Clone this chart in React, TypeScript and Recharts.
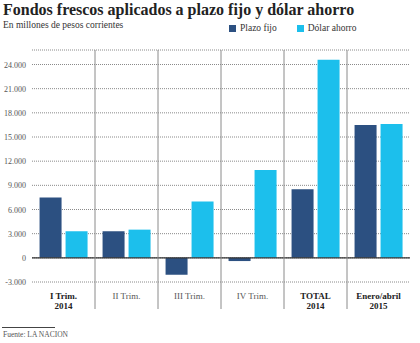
import { BarChart, Bar, XAxis, YAxis, CartesianGrid, ReferenceLine } from 'recharts'

const categories = ['I Trim.|2014', 'II Trim.', 'III Trim.', 'IV Trim.', 'TOTAL|2014', 'Enero/abril|2015']
const boldCats = ['I Trim.|2014', 'TOTAL|2014', 'Enero/abril|2015']
const plazoFijo = [7500, 3300, -2100, -400, 8500, 16500]
const dolarAhorro = [3300, 3500, 7000, 10900, 24600, 16600]
const yTicks = [-3000, 0, 3000, 6000, 9000, 12000, 15000, 18000, 21000, 24000]

const DARK = '#2c5081'
const LIGHT = '#1cbfec'
const FONT = '"Liberation Serif", "DejaVu Serif", serif'

const data = categories.map((c, i) => ({ cat: c, plazo: plazoFijo[i], dolar: dolarAhorro[i] }))

const fmt = (v: number) => (v === 0 ? '0' : v.toLocaleString('de-DE'))

const SEP_TOP = 50
const SEP_BOTTOM = 309

function CatTick(props: any) {
  const { x, y, payload, index } = props
  const lines = String(payload.value).split('|')
  const bold = boldCats.includes(payload.value)
  const off = payload.offset || 0
  return (
    <g>
      {index < categories.length - 1 && (
        <line x1={x + off} x2={x + off} y1={SEP_TOP} y2={SEP_BOTTOM} stroke="#8a8a8a" strokeWidth={1} />
      )}
      {lines.map((l, k) => (
        <text
          key={k}
          x={x}
          y={y + 9 + k * 10}
          textAnchor="middle"
          fontFamily={FONT}
          fontSize={9}
          fontWeight={bold ? 700 : 400}
          fill={bold ? '#222' : '#555'}
        >
          {l}
        </text>
      ))}
    </g>
  )
}

function YTick(props: any) {
  const { x, y, payload } = props
  return (
    <text x={x + 2} y={y + 3} textAnchor="end" fontFamily={FONT} fontSize={8} fill="#555">
      {fmt(payload.value)}
    </text>
  )
}

export default function App() {
  return (
    <div style={{ position: 'absolute', left: 0, top: 0, width: 420, height: 343, background: '#fff', fontFamily: FONT }}>
      <div style={{ position: 'absolute', left: 3, top: 1, fontSize: 16, fontWeight: 700, color: '#222', whiteSpace: 'nowrap' }}>
        Fondos frescos aplicados a plazo fijo y dólar ahorro
      </div>
      <div style={{ position: 'absolute', left: 3, top: 20, fontSize: 9.5, color: '#333', whiteSpace: 'nowrap' }}>
        En millones de pesos corrientes
      </div>
      <div style={{ position: 'absolute', left: 229, top: 23, fontSize: 9.5, color: '#333', whiteSpace: 'nowrap', display: 'flex', alignItems: 'center', fontFamily: FONT }}>
        <span style={{ display: 'inline-block', width: 7, height: 7, background: DARK, marginRight: 4 }} />
        <span style={{ marginRight: 20 }}>Plazo fijo</span>
        <span style={{ display: 'inline-block', width: 7, height: 7, background: LIGHT, marginRight: 4 }} />
        <span>Dólar ahorro</span>
      </div>
      <div style={{ position: 'absolute', left: 0, top: 0 }}>
        <BarChart
          width={420}
          height={343}
          data={data}
          margin={{ top: 50, right: 10, left: 0, bottom: 41 }}
          barCategoryGap="12%"
          barGap={4}
        >
          <CartesianGrid vertical={false} stroke="#8a8a8a" strokeDasharray="1 1" />
          <XAxis
            dataKey="cat"
            axisLine={false}
            tickLine={false}
            interval={0}
            tick={<CatTick />}
            height={20}
          />
          <YAxis
            domain={[-3000, 25800]}
            ticks={yTicks}
            interval={0}
            axisLine={false}
            tickLine={false}
            tick={<YTick />}
            width={32}
            allowDataOverflow
          />
          <ReferenceLine y={0} stroke="#333" strokeWidth={1.2} />
          <Bar dataKey="plazo" fill={DARK} isAnimationActive={false} />
          <Bar dataKey="dolar" fill={LIGHT} isAnimationActive={false} />
        </BarChart>
      </div>
      <div style={{ position: 'absolute', left: 2, top: 327, width: 53, height: 1, background: '#444' }} />
      <div style={{ position: 'absolute', left: 3, top: 330, fontSize: 7.5, color: '#555', whiteSpace: 'nowrap' }}>
        Fuente: LA NACION
      </div>
    </div>
  )
}
